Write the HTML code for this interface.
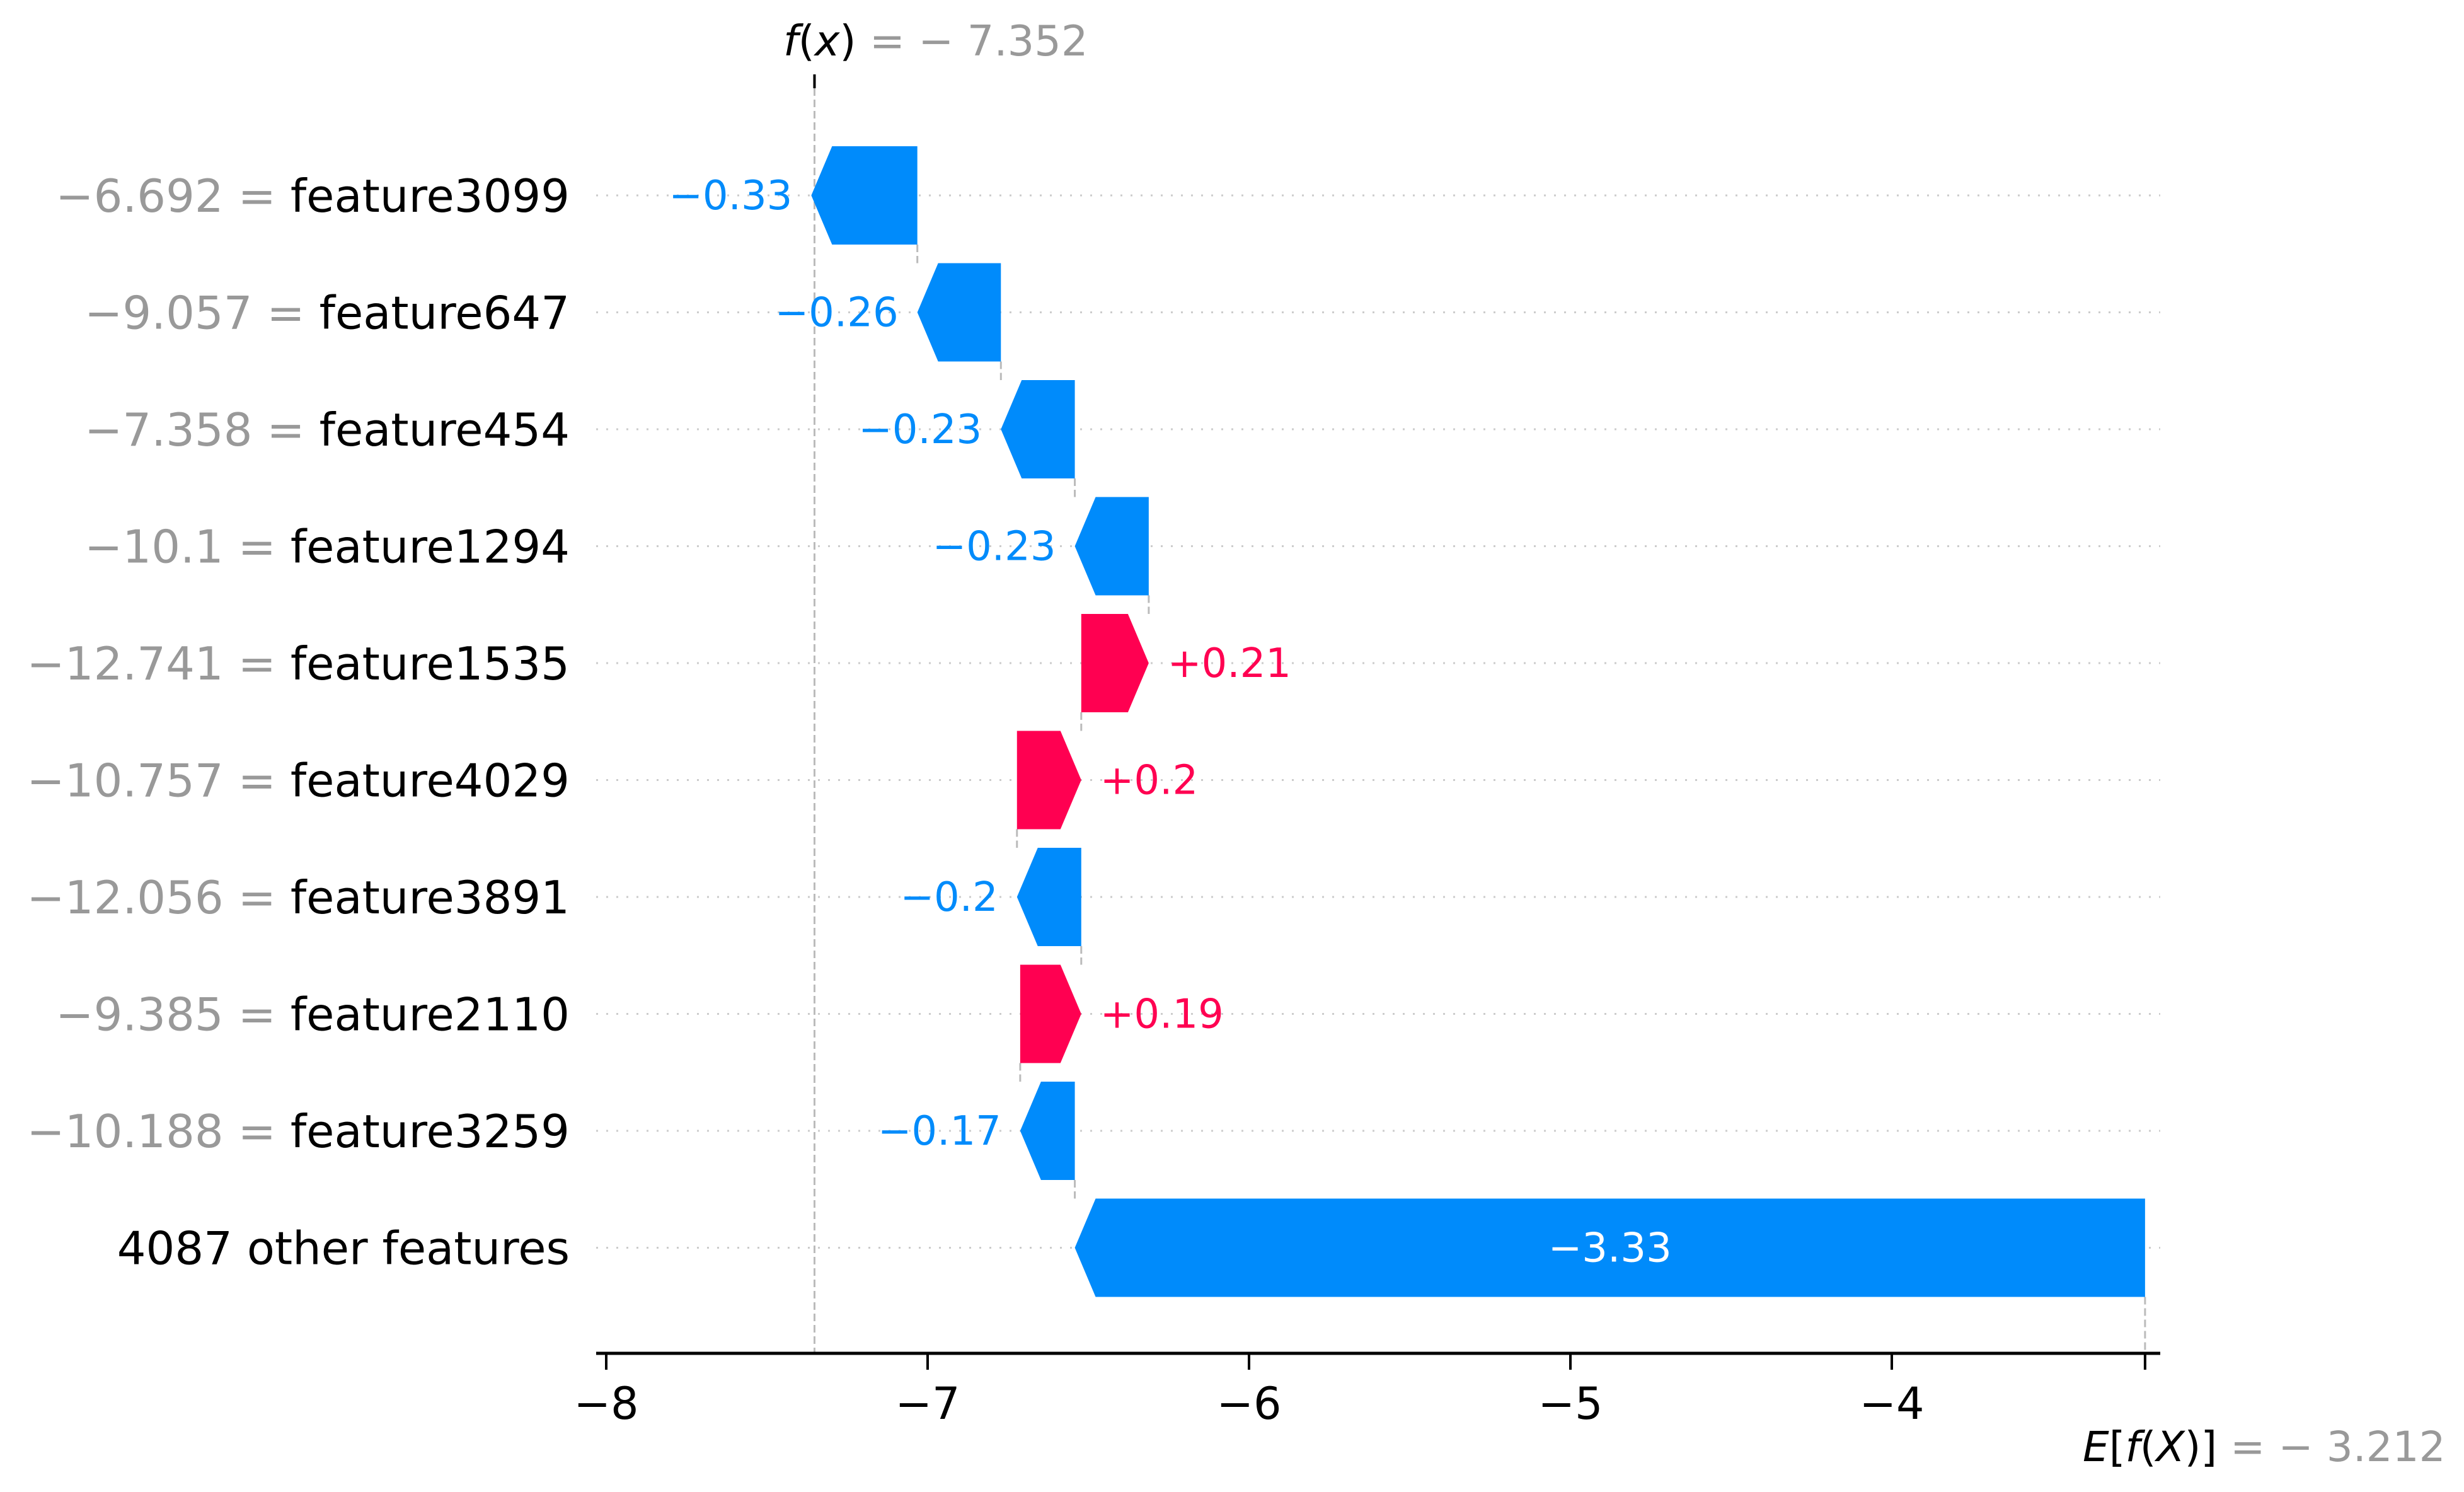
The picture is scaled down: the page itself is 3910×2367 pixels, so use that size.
<!DOCTYPE html>
<html><head><meta charset="utf-8"><style>
html,body{margin:0;padding:0;background:#fff;}
svg{display:block;font-family:"DejaVu Sans","Liberation Sans",sans-serif;}
</style></head><body>
<svg id="chart" width="3910" height="2367" viewBox="0 0 3910 2367" xmlns="http://www.w3.org/2000/svg">
<g id="grid"></g><g id="conn"></g><g id="bars"></g><g id="labels"></g><g id="axis"></g>
</svg>
<script>
const featureNames = ["feature3099","feature647","feature454","feature1294","feature1535","feature4029","feature3891","feature2110","feature3259","4087 other features"];
const featureValues = ["−6.692","−9.057","−7.358","−10.1","−12.741","−10.757","−12.056","−9.385","−10.188",""];
const shapValues = [-0.33,-0.26,-0.23,-0.23,0.21,0.2,-0.2,0.19,-0.17,-3.33];
const baseValue = -3.212;
const fxValue = -7.352;
const xTicks = [-8,-7,-6,-5,-4];
const xTickLabels = ["−8","−7","−6","−5","−4"];

const NS="http://www.w3.org/2000/svg";
const X0=962, SLOPE=510;
function xs(v){return X0+(v+8)*SLOPE;}
const ROW0=310, ROWSTEP=185.5, BARH=156, HEAD=33;
function ys(i){return ROW0+i*ROWSTEP;}
function mk(tag,attrs,parent){const e=document.createElementNS(NS,tag);for(const k in attrs)e.setAttribute(k,attrs[k]);parent.appendChild(e);return e;}
const G=id=>document.getElementById(id);
const BLUE="#008bfb", RED="#ff0051";
const AXY=2147, AXL=946, AXR=3428;
const n=shapValues.length;

const starts=new Array(n), ends=new Array(n);
let cur=baseValue;
for(let i=n-1;i>=0;i--){starts[i]=cur;cur+=shapValues[i];ends[i]=cur;}

for(let i=0;i<n;i++){
  const y=ys(i);
  const gl=mk('line',{x1:AXL,x2:AXR,y1:y,y2:y,stroke:'#cccccc','stroke-width':3,'stroke-dasharray':'3 13'},G('grid'));
  
  

  const s=starts[i], e=ends[i], v=shapValues[i];
  const xa=xs(s), xb=xs(e);
  const dir=v<0?-1:1;
  let head=Math.min(HEAD,Math.abs(xb-xa));
  const xbody=xb-dir*head;
  const t=y-BARH/2, b=y+BARH/2;
  const pts=[[xa,t],[xbody,t],[xb,y],[xbody,b],[xa,b]].map(p=>p.join(',')).join(' ');
  const bar=mk('polygon',{points:pts,fill:v<0?BLUE:RED},G('bars'));
  
  

  const txt=(v<0?'−':'+')+Math.abs(v).toString();
  let lab;
  if(Math.abs(xb-xa)>400){
    lab=mk('text',{x:(xa+xb)/2,y:y+22,'font-size':64,fill:'#fff','text-anchor':'middle'},G('labels'));
  } else if(v<0){
    lab=mk('text',{x:xb-30,y:y+22,'font-size':64,fill:BLUE,'text-anchor':'end'},G('labels'));
  } else {
    lab=mk('text',{x:xb+30,y:y+22,'font-size':64,fill:RED,'text-anchor':'start'},G('labels'));
  }
  lab.textContent=txt;
  
  

  const fl=mk('text',{x:904,y:y+26,'font-size':72,'text-anchor':'end'},G('labels'));
  
  
  if(featureValues[i]){
    const t1=mk('tspan',{fill:'#999999'},fl);t1.textContent=featureValues[i]+' = ';
  }
  const t2=mk('tspan',{fill:'#000000'},fl);t2.textContent=featureNames[i];

  if(i>0){
    const c=mk('line',{x1:xs(starts[i-1]),x2:xs(starts[i-1]),y1:ys(i-1)+BARH/2,y2:t,stroke:'#bbbbbb','stroke-width':3,'stroke-dasharray':'12 6'},G('conn'));
    
    
  }
}
const bl=mk('line',{x1:xs(baseValue),x2:xs(baseValue),y1:ys(n-1)+BARH/2,y2:AXY,stroke:'#bbbbbb','stroke-width':3,'stroke-dasharray':'12 6'},G('conn'));


const fxl=mk('line',{x1:xs(fxValue),x2:xs(fxValue),y1:140,y2:AXY,stroke:'#bbbbbb','stroke-width':3,'stroke-dasharray':'12 6'},G('conn'));


const fxt=mk('line',{x1:xs(fxValue),x2:xs(fxValue),y1:118,y2:140,stroke:'#000','stroke-width':4},G('axis'));



const ax=mk('line',{x1:AXL,x2:AXR,y1:AXY,y2:AXY,stroke:'#000','stroke-width':5},G('axis'));


xTicks.forEach((tv,k)=>{
  const tk=mk('line',{x1:xs(tv),x2:xs(tv),y1:AXY,y2:AXY+26,stroke:'#000','stroke-width':4},G('axis'));
  
  
  const tl=mk('text',{x:xs(tv),y:AXY+104,'font-size':70,'text-anchor':'middle',fill:'#000'},G('axis'));
  tl.textContent=xTickLabels[k];
  
  
});
const bt=mk('line',{x1:xs(baseValue),x2:xs(baseValue),y1:AXY,y2:AXY+26,stroke:'#000','stroke-width':4},G('axis'));



const fxLab=mk('text',{x:1243,y:88,'font-size':67},G('axis'));


let a=mk('tspan',{fill:'#000','font-style':'italic'},fxLab);a.textContent='f';
a=mk('tspan',{fill:'#000'},fxLab);a.textContent='(';
a=mk('tspan',{fill:'#000','font-style':'italic'},fxLab);a.textContent='x';
a=mk('tspan',{fill:'#000'},fxLab);a.textContent=')';
a=mk('tspan',{fill:'#999999'},fxLab);a.textContent=' = − '+Math.abs(fxValue).toFixed(3);

const eLab=mk('text',{x:3305,y:2318,'font-size':66},G('axis'));


a=mk('tspan',{fill:'#000','font-style':'italic'},eLab);a.textContent='E';
a=mk('tspan',{fill:'#000'},eLab);a.textContent='[';
a=mk('tspan',{fill:'#000','font-style':'italic'},eLab);a.textContent='f';
a=mk('tspan',{fill:'#000'},eLab);a.textContent='(';
a=mk('tspan',{fill:'#000','font-style':'italic'},eLab);a.textContent='X';
a=mk('tspan',{fill:'#000'},eLab);a.textContent=')]';
a=mk('tspan',{fill:'#999999'},eLab);a.textContent=' = − '+Math.abs(baseValue).toFixed(3);
</script>
</body></html>
